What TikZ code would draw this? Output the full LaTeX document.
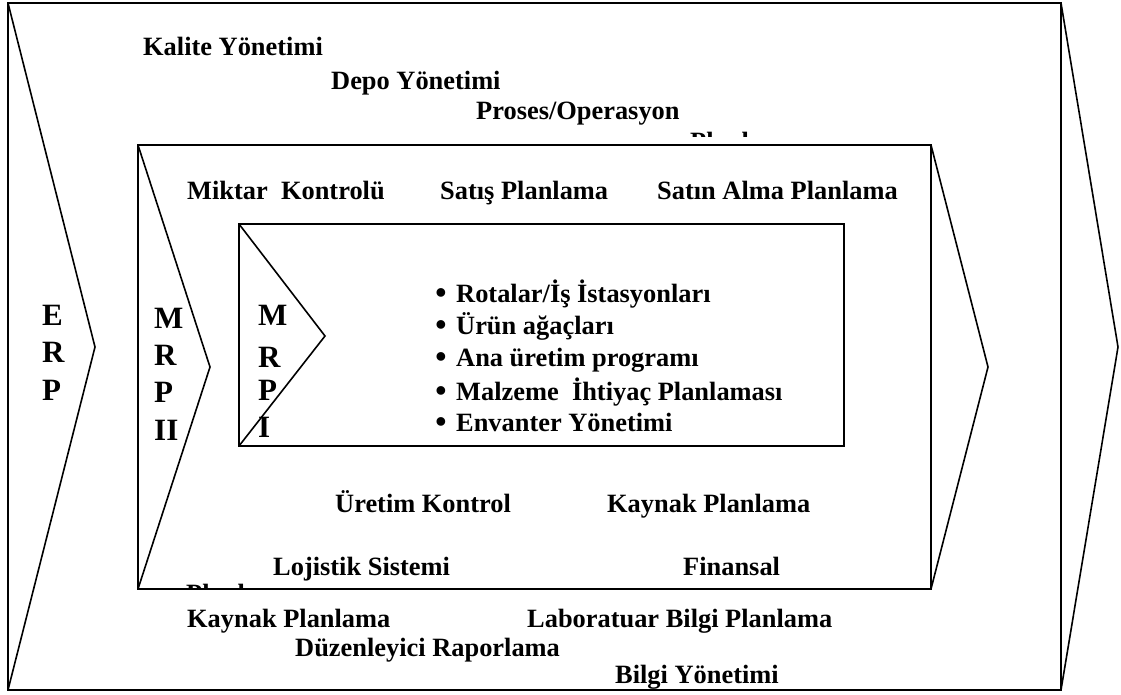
\documentclass[tikz,border=0pt]{standalone}
\usepackage{fontspec}
\setmainfont{Liberation Serif}
\begin{document}
\begin{tikzpicture}[x=1pt,y=-1pt,
  frame/.style={draw=black,line width=1.6pt,line join=miter},
  lbl/.style={anchor=base west,inner sep=0pt,font=\fontsize{26.4}{30}\selectfont\bfseries},
  letter/.style={anchor=base west,inner sep=0pt,font=\fontsize{31}{34}\selectfont\bfseries},
  dot/.style={anchor=base,inner sep=0pt,font=\fontsize{32}{34}\selectfont\bfseries}]
\useasboundingbox (0,0) rectangle (1121,695);

% ---- ERP frame ----
\draw[frame,fill=white] (8,3) rectangle (1061,690);
\draw[frame] (8,3) -- (95,347) -- (8,690);
\draw[frame] (1061,3) -- (1118,347) -- (1061,690);

\node[letter] (erpE) at (42,325) {E};
\node[letter] (erpR) at (42,362) {R};
\node[letter] (erpP) at (42,400) {P};

\node[lbl] (kalite) at (143,56) {Kalite Yönetimi};
\node[lbl] (depo) at (331,90) {Depo Yönetimi};
\node[lbl] (proses) at (476,120) {Proses/Operasyon};
% second line of the label, cut off by its text box
\begin{scope}
  \clip (600,100) rectangle (800,136.5);
  \node[lbl,text depth=0pt] (prosesPlan) at (690,151) {Planlama};
\end{scope}
\node[lbl] (kaynakB) at (187,627) {Kaynak Planlama};
\node[lbl] (lab) at (527,627) {Laboratuar Bilgi Planlama};
\node[lbl] (duzen) at (295,656) {Düzenleyici Raporlama};
\node[lbl] (bilgi) at (615,683) {Bilgi Yönetimi};

% ---- MRP II frame ----
\draw[frame,fill=white] (138,145) rectangle (931,589);
\draw[frame] (138,145) -- (210,367) -- (138,589);
\draw[frame] (931,145) -- (988,367) -- (931,589);

% second line of the label, cut off by its text box
\begin{scope}
  \clip (150,570) rectangle (300,588.5);
  \node[lbl,text depth=0pt] (lojPlan) at (186,602) {Planlama};
\end{scope}

\node[letter] (m2M) at (154,328) {M};
\node[letter] (m2R) at (154,365) {R};
\node[letter] (m2P) at (154,402) {P};
\node[letter] (m2I) at (154,440) {II};

\node[lbl] (miktar) at (187,200) {Miktar\ \ Kontrolü};
\node[lbl] (satis) at (440,200) {Satış Planlama};
\node[lbl] (satin) at (657,200) {Satın Alma Planlama};
\node[lbl] (uretim) at (335,512) {Üretim Kontrol};
\node[lbl] (kaynakM) at (607,512) {Kaynak Planlama};
\node[lbl] (loj) at (273,575) {Lojistik Sistemi};
\node[lbl] (fin) at (683,575) {Finansal};

% ---- MRP I frame ----
\draw[frame,fill=white] (239,224) rectangle (844,446);
\draw[frame] (239,224) -- (325,336) -- (239,446);

\node[letter] (m1M) at (258,325) {M};
\node[letter] (m1R) at (258,367) {R};
\node[letter] (m1P) at (258,400) {P};
\node[letter] (m1I) at (258,437) {I};

\node[dot] (b1) at (441,303) {•};
\node[dot] (b2) at (441,335) {•};
\node[dot] (b3) at (441,367) {•};
\node[dot] (b4) at (441,401) {•};
\node[dot] (b5) at (441,432) {•};
\node[lbl] (t1) at (456,302) {Rotalar/İş İstasyonları};
\node[lbl] (t2) at (456,334) {Ürün ağaçları};
\node[lbl] (t3) at (456,366) {Ana üretim programı};
\node[lbl] (t4) at (456,400) {Malzeme\ \ İhtiyaç Planlaması};
\node[lbl] (t5) at (456,431) {Envanter Yönetimi};
\end{tikzpicture}
\end{document}
